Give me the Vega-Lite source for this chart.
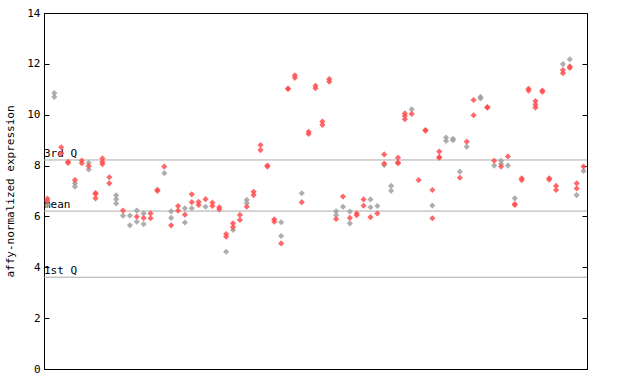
{
  "$schema": "https://vega.github.io/schema/vega-lite/v6.json",
  "width": 543,
  "height": 356,
  "autosize": "none",
  "padding": {"left": 44, "top": 13, "right": 53, "bottom": 15},
  "background": "white",
  "config": {
    "view": {"stroke": "black", "strokeWidth": 1},
    "font": "DejaVu Sans Mono"
  },
  "datasets": {
    "pts": [
      {"i":0,"v":6.7,"s":"r"},{"i":0,"v":6.6,"s":"r"},{"i":0,"v":6.45,"s":"g"},
      {"i":1,"v":10.85,"s":"g"},{"i":1,"v":10.7,"s":"g"},
      {"i":2,"v":8.72,"s":"r"},{"i":2,"v":8.48,"s":"r"},
      {"i":3,"v":8.15,"s":"r"},{"i":3,"v":8.1,"s":"r"},
      {"i":4,"v":7.43,"s":"r"},{"i":4,"v":7.3,"s":"g"},{"i":4,"v":7.17,"s":"g"},
      {"i":5,"v":8.2,"s":"r"},{"i":5,"v":8.09,"s":"r"},
      {"i":6,"v":8.11,"s":"g"},{"i":6,"v":7.98,"s":"r"},{"i":6,"v":7.85,"s":"g"},
      {"i":7,"v":6.92,"s":"r"},{"i":7,"v":6.88,"s":"r"},{"i":7,"v":6.71,"s":"r"},
      {"i":8,"v":8.28,"s":"r"},{"i":8,"v":8.15,"s":"r"},{"i":8,"v":8.06,"s":"r"},
      {"i":9,"v":7.54,"s":"r"},{"i":9,"v":7.3,"s":"r"},
      {"i":10,"v":6.83,"s":"g"},{"i":10,"v":6.68,"s":"g"},{"i":10,"v":6.51,"s":"g"},
      {"i":11,"v":6.23,"s":"r"},{"i":11,"v":6.03,"s":"g"},
      {"i":12,"v":6.03,"s":"g"},{"i":12,"v":5.65,"s":"g"},
      {"i":13,"v":6.23,"s":"g"},{"i":13,"v":5.99,"s":"r"},{"i":13,"v":5.79,"s":"g"},
      {"i":14,"v":6.12,"s":"g"},{"i":14,"v":5.94,"s":"r"},{"i":14,"v":5.7,"s":"g"},
      {"i":15,"v":6.12,"s":"r"},{"i":15,"v":5.93,"s":"r"},
      {"i":16,"v":7.05,"s":"r"},{"i":16,"v":7.0,"s":"r"},
      {"i":17,"v":7.96,"s":"r"},{"i":17,"v":7.7,"s":"g"},
      {"i":18,"v":6.2,"s":"g"},{"i":18,"v":5.94,"s":"g"},{"i":18,"v":5.65,"s":"r"},
      {"i":19,"v":6.41,"s":"r"},{"i":19,"v":6.23,"s":"r"},
      {"i":20,"v":6.32,"s":"g"},{"i":20,"v":6.07,"s":"r"},{"i":20,"v":5.76,"s":"g"},
      {"i":21,"v":6.87,"s":"r"},{"i":21,"v":6.56,"s":"r"},{"i":21,"v":6.32,"s":"g"},
      {"i":22,"v":6.57,"s":"r"},{"i":22,"v":6.45,"s":"r"},
      {"i":23,"v":6.68,"s":"r"},{"i":23,"v":6.38,"s":"g"},
      {"i":24,"v":6.54,"s":"r"},{"i":24,"v":6.41,"s":"r"},
      {"i":25,"v":6.36,"s":"r"},{"i":25,"v":6.28,"s":"r"},
      {"i":26,"v":5.31,"s":"r"},{"i":26,"v":5.2,"s":"r"},{"i":26,"v":4.61,"s":"g"},
      {"i":27,"v":5.73,"s":"r"},{"i":27,"v":5.58,"s":"r"},{"i":27,"v":5.47,"s":"g"},
      {"i":28,"v":6.06,"s":"r"},{"i":28,"v":5.86,"s":"r"},
      {"i":29,"v":6.65,"s":"g"},{"i":29,"v":6.52,"s":"g"},{"i":29,"v":6.38,"s":"r"},
      {"i":30,"v":6.97,"s":"r"},{"i":30,"v":6.84,"s":"r"},
      {"i":31,"v":8.81,"s":"r"},{"i":31,"v":8.61,"s":"r"},
      {"i":32,"v":8.0,"s":"r"},{"i":32,"v":7.96,"s":"r"},
      {"i":33,"v":5.89,"s":"r"},{"i":33,"v":5.79,"s":"r"},
      {"i":34,"v":5.77,"s":"g"},{"i":34,"v":5.23,"s":"g"},{"i":34,"v":4.94,"s":"r"},
      {"i":35,"v":11.03,"s":"r"},{"i":35,"v":11.01,"s":"r"},
      {"i":36,"v":11.55,"s":"r"},{"i":36,"v":11.45,"s":"r"},
      {"i":37,"v":6.91,"s":"g"},{"i":37,"v":6.56,"s":"r"},
      {"i":38,"v":9.33,"s":"r"},{"i":38,"v":9.24,"s":"r"},
      {"i":39,"v":11.14,"s":"r"},{"i":39,"v":11.04,"s":"r"},
      {"i":40,"v":9.73,"s":"r"},{"i":40,"v":9.6,"s":"r"},
      {"i":41,"v":11.4,"s":"r"},{"i":41,"v":11.3,"s":"r"},
      {"i":42,"v":6.2,"s":"g"},{"i":42,"v":6.05,"s":"g"},{"i":42,"v":5.9,"s":"r"},
      {"i":43,"v":6.78,"s":"r"},{"i":43,"v":6.38,"s":"g"},
      {"i":44,"v":6.19,"s":"g"},{"i":44,"v":5.94,"s":"r"},{"i":44,"v":5.73,"s":"g"},
      {"i":45,"v":6.12,"s":"r"},{"i":45,"v":6.05,"s":"r"},
      {"i":46,"v":6.67,"s":"r"},{"i":46,"v":6.42,"s":"r"},
      {"i":47,"v":6.67,"s":"g"},{"i":47,"v":6.36,"s":"g"},{"i":47,"v":5.97,"s":"r"},
      {"i":48,"v":6.41,"s":"g"},{"i":48,"v":6.12,"s":"r"},
      {"i":49,"v":8.44,"s":"r"},{"i":49,"v":8.08,"s":"r"},{"i":49,"v":8.02,"s":"g"},
      {"i":50,"v":7.2,"s":"g"},{"i":50,"v":7.01,"s":"g"},
      {"i":51,"v":8.31,"s":"r"},{"i":51,"v":8.12,"s":"r"},{"i":51,"v":8.09,"s":"r"},
      {"i":52,"v":10.05,"s":"r"},{"i":52,"v":9.95,"s":"r"},{"i":52,"v":9.82,"s":"r"},
      {"i":53,"v":10.21,"s":"g"},{"i":53,"v":10.03,"s":"r"},
      {"i":54,"v":7.43,"s":"r"},
      {"i":55,"v":9.4,"s":"r"},{"i":55,"v":9.37,"s":"r"},
      {"i":56,"v":7.04,"s":"r"},{"i":56,"v":6.43,"s":"g"},{"i":56,"v":5.93,"s":"r"},
      {"i":57,"v":8.55,"s":"r"},{"i":57,"v":8.33,"s":"r"},{"i":57,"v":8.31,"s":"r"},
      {"i":58,"v":9.1,"s":"g"},{"i":58,"v":8.97,"s":"g"},
      {"i":59,"v":9.05,"s":"g"},{"i":59,"v":9.0,"s":"g"},
      {"i":60,"v":7.76,"s":"g"},{"i":60,"v":7.52,"s":"r"},
      {"i":61,"v":8.94,"s":"r"},{"i":61,"v":8.74,"s":"g"},
      {"i":62,"v":10.58,"s":"r"},{"i":62,"v":9.98,"s":"r"},
      {"i":63,"v":10.7,"s":"g"},{"i":63,"v":10.64,"s":"g"},
      {"i":64,"v":10.3,"s":"r"},{"i":64,"v":10.28,"s":"r"},
      {"i":65,"v":8.19,"s":"r"},{"i":65,"v":8.0,"s":"g"},
      {"i":66,"v":8.19,"s":"g"},{"i":66,"v":8.06,"s":"g"},{"i":66,"v":7.96,"s":"r"},
      {"i":67,"v":8.36,"s":"r"},{"i":67,"v":8.0,"s":"g"},
      {"i":68,"v":6.71,"s":"g"},{"i":68,"v":6.49,"s":"r"},{"i":68,"v":6.45,"s":"r"},
      {"i":69,"v":7.5,"s":"r"},{"i":69,"v":7.43,"s":"r"},
      {"i":70,"v":11.02,"s":"r"},{"i":70,"v":10.95,"s":"r"},
      {"i":71,"v":10.54,"s":"r"},{"i":71,"v":10.4,"s":"r"},{"i":71,"v":10.28,"s":"r"},
      {"i":72,"v":10.95,"s":"r"},{"i":72,"v":10.9,"s":"r"},
      {"i":73,"v":7.5,"s":"r"},{"i":73,"v":7.45,"s":"r"},
      {"i":74,"v":7.2,"s":"r"},{"i":74,"v":7.04,"s":"r"},
      {"i":75,"v":11.99,"s":"g"},{"i":75,"v":11.76,"s":"r"},{"i":75,"v":11.63,"s":"r"},
      {"i":76,"v":12.18,"s":"g"},{"i":76,"v":11.9,"s":"r"},{"i":76,"v":11.84,"s":"r"},
      {"i":77,"v":7.3,"s":"r"},{"i":77,"v":7.1,"s":"r"},{"i":77,"v":6.84,"s":"g"},
      {"i":78,"v":7.96,"s":"r"},{"i":78,"v":7.79,"s":"g"}
    ],
    "stats": [
      {"label":"3rd Q","v":8.22,"x":-0.5},
      {"label":"mean","v":6.21,"x":-0.5},
      {"label":"1st Q","v":3.61,"x":-0.5}
    ]
  },
  "layer": [
    {
      "data": {"name": "stats"},
      "mark": {"type": "rule", "color": "#aaaaaa", "strokeWidth": 1},
      "encoding": {
        "y": {
          "field": "v", "type": "quantitative",
          "scale": {"domain": [0, 14], "nice": false, "zero": true},
          "axis": {"orient": "right", "title": null, "labels": false, "values": [0,2,4,6,8,10,12,14],
                   "tickSize": -5, "tickColor": "black", "domainColor": "black", "grid": false}
        }
      }
    },
    {
      "data": {"name": "stats"},
      "mark": {"type": "text", "align": "left", "baseline": "bottom", "dy": -1, "fontSize": 11, "font": "DejaVu Sans Mono", "color": "black"},
      "encoding": {
        "x": {"field": "x", "type": "quantitative", "axis": null},
        "y": {"field": "v", "type": "quantitative", "axis": null},
        "text": {"field": "label"}
      }
    },
    {
      "data": {"name": "pts"},
      "mark": {"type": "point", "shape": "diamond", "filled": true, "size": 38, "opacity": 0.85},
      "encoding": {
        "x": {
          "field": "i", "type": "quantitative",
          "scale": {"domain": [-0.5, 78.5], "nice": false, "zero": false},
          "axis": {"values": [9.5,19.5,29.5,39.5,49.5,59.5,69.5], "grid": true, "gridColor": "#aaaaaa", "gridOpacity": 1,
                   "labels": false, "ticks": false, "domain": false, "title": null}
        },
        "y": {
          "field": "v", "type": "quantitative",
          "axis": {"orient": "left", "title": "affy-normalized expression", "values": [0,2,4,6,8,10,12,14],
                   "grid": false, "tickSize": -5, "tickColor": "black", "domainColor": "black",
                   "labelPadding": 9, "labelFont": "DejaVu Sans Mono", "labelFontSize": 11, "labelColor": "black",
                   "titleFont": "DejaVu Sans Mono", "titleFontSize": 11, "titleFontWeight": "normal", "titleColor": "black", "titlePadding": 11}
        },
        "color": {"field": "s", "type": "nominal", "scale": {"domain": ["g", "r"], "range": ["#a0a0a0", "#ff4d4d"]}, "legend": null},
        "order": {"field": "s", "type": "nominal", "sort": "ascending"}
      }
    }
  ],
  "resolve": {"axis": {"y": "independent"}}
}
